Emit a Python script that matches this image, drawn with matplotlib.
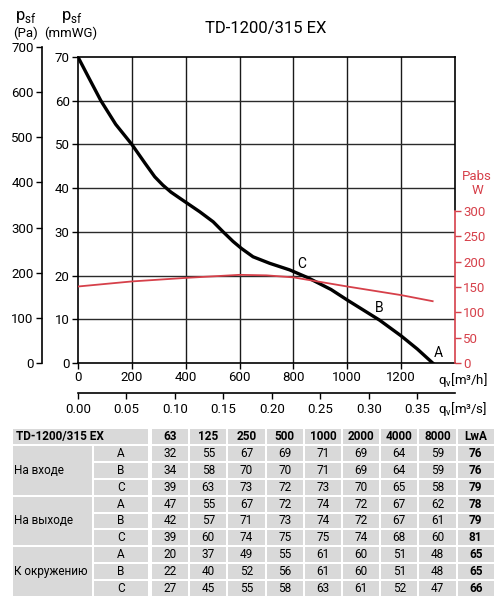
import numpy as np
import matplotlib
matplotlib.use("Agg")
import matplotlib.pyplot as plt
from matplotlib.patches import Rectangle

plt.rcParams['font.family'] = ['Roboto', 'DejaVu Sans']
plt.rcParams['mathtext.fontset'] = 'custom'
plt.rcParams['mathtext.rm'] = 'Roboto'

# pressure curve (q in m3/h, p in mmWG)
flow_mh = [0, 38, 85, 140, 200, 250, 285, 315, 345, 378, 452, 502, 539, 576, 607, 650,
           712, 786, 854, 940, 1000, 1060, 1120, 1200, 1260, 1317]
press_mmwg = [70, 65.5, 60, 54.6, 50, 45.6, 42.6, 40.7, 39.1, 37.7, 34.6, 32.3, 30.0, 27.8, 26.2, 24.3,
              22.8, 21.3, 19.5, 16.8, 14.4, 12.1, 9.8, 6.2, 3.2, 0]

# absorbed power curve (W)
flow_pw = [0, 200, 400, 600, 700, 800, 1000, 1200, 1317]
power_w = [151, 161, 168, 174, 173, 169, 151, 134, 122]

# operating points
pt_labels = ["C", "B", "A"]
pt_x = [829, 1120, 1339]
pt_y = [22.6, 12.6, 2.3]

# sound table
bands = ["63", "125", "250", "500", "1000", "2000", "4000", "8000", "LwA"]
groups = ["На входе", "На выходе", "К окружению"]
letters = ["A", "B", "C"]
sound = [
    [32, 55, 67, 69, 71, 69, 64, 59, 76],
    [34, 58, 70, 70, 71, 69, 64, 59, 76],
    [39, 63, 73, 72, 73, 70, 65, 58, 79],
    [47, 55, 67, 72, 74, 72, 67, 62, 78],
    [42, 57, 71, 73, 74, 72, 67, 61, 79],
    [39, 60, 74, 75, 75, 74, 68, 60, 81],
    [20, 37, 49, 55, 61, 60, 51, 48, 65],
    [22, 40, 52, 56, 61, 60, 51, 48, 65],
    [27, 45, 55, 58, 63, 61, 52, 47, 66],
]

W, H = 503, 605
red = '#d6404a'
tick_fs = 9.5
fig = plt.figure(figsize=(W / 100, H / 100), dpi=100)

def fx(px):
    return px / W

def fy(py):
    return 1 - py / H

# main plot frame in pixels
L, R, T, B = 78, 455, 57, 363
ax = fig.add_axes([fx(L), fy(B), fx(R - L), (B - T) / H])
ax.plot(flow_mh, press_mmwg, color='black', lw=2.4, solid_joinstyle='round', zorder=4)
ax.set_xlim(0, 1400)
ax.set_ylim(0, 70)
ax.set_xticks(np.arange(0, 1201, 200))
ax.set_yticks(np.arange(0, 71, 10))
for xv in range(200, 1201, 200):
    ax.axvline(xv, color='#1a1a1a', lw=1, zorder=1)
for yv in range(10, 61, 10):
    ax.axhline(yv, color='#2a2a2a', lw=1, zorder=1)
ax.tick_params(labelsize=tick_fs, length=4, width=1, pad=2)
for s in ax.spines.values():
    s.set_linewidth(1.2)
ax.spines['right'].set_bounds(35, 70)
for lab, x, y in zip(pt_labels, pt_x, pt_y):
    ax.text(x, y, lab, fontsize=10, ha='center', va='center', zorder=5)

# red power axis
ax2 = ax.twinx()
ax2.plot(flow_pw, power_w, color=red, lw=1.3, zorder=3)
ax2.set_ylim(0, 604)
ax2.set_yticks(np.arange(0, 301, 50))
ax2.spines['right'].set_bounds(0, 300)
ax2.spines['right'].set_color(red)
ax2.spines['right'].set_linewidth(1.2)
for k in ['left', 'top', 'bottom']:
    ax2.spines[k].set_visible(False)
ax2.tick_params(axis='y', colors=red, labelsize=tick_fs, length=4, width=1, pad=2)
fig.text(fx(477), fy(176), "Pabs", color=red, fontsize=tick_fs, ha='center', va='center')
fig.text(fx(477), fy(190), "W", color=red, fontsize=tick_fs, ha='center', va='center')

# Pa axis on the far left
axp = fig.add_axes([fx(42), fy(363), 0.0001, (363 - 47) / H])
axp.set_ylim(0, 700)
axp.set_yticks(np.arange(0, 701, 100))
axp.set_xticks([])
for k in ['right', 'top', 'bottom']:
    axp.spines[k].set_visible(False)
axp.spines['left'].set_linewidth(1.2)
axp.tick_params(axis='y', labelsize=tick_fs, length=4, width=1, pad=2)

# m3/s axis
axs = fig.add_axes([fx(L), fy(393), fx(R - L), 0.0001])
axs.set_xlim(0, 1400 / 3600)
axs.set_xticks(np.arange(0, 0.351, 0.05))
axs.set_xticklabels([f"{v:.2f}" for v in np.arange(0, 0.351, 0.05)])
axs.set_yticks([])
for k in ['left', 'right', 'top']:
    axs.spines[k].set_visible(False)
axs.spines['bottom'].set_linewidth(1.2)
axs.tick_params(axis='x', labelsize=tick_fs, length=4, width=1, pad=3)

# axis labels
fig.text(fx(26), fy(17), r"p$_{\mathregular{sf}}$", fontsize=12, ha='center', va='center')
fig.text(fx(25), fy(33), "(Pa)", fontsize=tick_fs, ha='center', va='center')
fig.text(fx(72), fy(17), r"p$_{\mathregular{sf}}$", fontsize=12, ha='center', va='center')
fig.text(fx(71), fy(33), "(mmWG)", fontsize=tick_fs, ha='center', va='center')
fig.text(fx(438), fy(380), r"q$_{\mathregular{v}}$[m³/h]", fontsize=tick_fs, ha='left', va='center')
fig.text(fx(438), fy(409), r"q$_{\mathregular{v}}$[m³/s]", fontsize=tick_fs, ha='left', va='center')
fig.text(fx(266), fy(28), "TD-1200/315 EX", fontsize=12, ha='center', va='center')

# sound table drawn in pixel coordinates
axt = fig.add_axes([0, 0, 1, 1])
axt.set_xlim(0, W)
axt.set_ylim(H, 0)
axt.axis('off')
gray = '#d9d9d9'
row_top = 428
row_h = 16.9
col0 = 151
col_w = 38.2
gap = 1.0
tfs = 8.5

def cell(x0, x1, y0, y1):
    axt.add_patch(Rectangle((x0 + gap, y0 + gap), x1 - x0 - 2 * gap, y1 - y0 - 2 * gap,
                            facecolor=gray, edgecolor='none'))

# header
cell(12, 149, row_top, row_top + row_h)
axt.text(16, row_top + row_h / 2, "TD-1200/315 EX", fontsize=tfs, fontweight='bold',
         ha='left', va='center')
for j, b in enumerate(bands):
    x0 = col0 + j * col_w
    cell(x0, x0 + col_w, row_top, row_top + row_h)
    axt.text(x0 + col_w / 2, row_top + row_h / 2, b, fontsize=tfs, fontweight='bold',
             ha='center', va='center')

for g, gname in enumerate(groups):
    gy0 = row_top + row_h * (1 + 3 * g)
    cell(12, 93, gy0, gy0 + 3 * row_h)
    axt.text(14, gy0 + 1.5 * row_h, gname, fontsize=tfs, ha='left', va='center')
    for r in range(3):
        y0 = gy0 + r * row_h
        cell(93, 149, y0, y0 + row_h)
        axt.text(121, y0 + row_h / 2, letters[r], fontsize=tfs, ha='center', va='center')
        vals = sound[3 * g + r]
        for j, v in enumerate(vals):
            x0 = col0 + j * col_w
            cell(x0, x0 + col_w, y0, y0 + row_h)
            axt.text(x0 + col_w / 2, y0 + row_h / 2, str(v), fontsize=tfs,
                     fontweight='bold' if j == len(vals) - 1 else 'normal',
                     ha='center', va='center')

fig.savefig("out.png", dpi=100)
